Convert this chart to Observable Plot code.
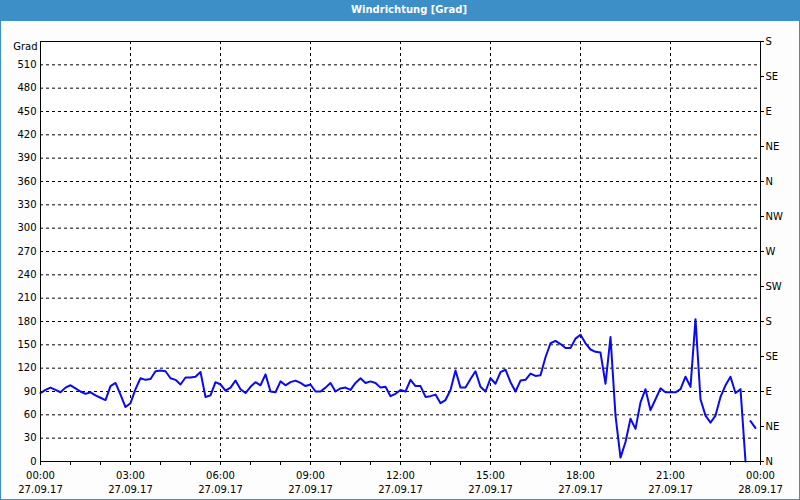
<!DOCTYPE html>
<html><head><meta charset="utf-8">
<script src="https://cdn.jsdelivr.net/npm/d3@7"></script>
<script src="https://cdn.jsdelivr.net/npm/@observablehq/plot@0.6"></script>
<style>
html,body{margin:0;padding:0;background:#fcfdfc;}
#wrap{position:relative;width:800px;height:500px;overflow:hidden;background:#fcfdfc;font-family:"DejaVu Sans",sans-serif;}
#title{position:absolute;left:0;top:0;width:800px;height:21px;background:#3c8fc7;}
#title span{position:absolute;left:409px;top:4px;transform:translateX(-50%);color:#fff;font-weight:bold;font-size:10px;white-space:nowrap;}
#chart{position:absolute;left:0;top:20px;}
#border{position:absolute;left:0;top:0;width:800px;height:500px;box-sizing:border-box;border:1px solid #3c8fc7;pointer-events:none;}
</style></head><body>
<div id="wrap"><div id="title"><span>Windrichtung [Grad]</span></div><div id="chart"></div><div id="border"></div></div>
<script>
// Series: wind direction in degrees, one value every 10 minutes from 27.09.17 00:00
const startTime = "2017-09-27T00:00:00Z";
const endTime = "2017-09-28T00:00:00Z";
const stepMinutes = 10;
const windDir = [
  88, 92, 95, 92, 89, 95,     // 00:00
  98, 94, 90, 87, 89, 85,     // 01:00
  82, 79, 97, 101, 86, 70,    // 02:00
  75, 93, 107, 105, 106, 116, // 03:00
  117, 116, 107, 105, 99, 108,// 04:00
  108, 109, 115, 83, 85, 102, // 05:00
  99, 91, 95, 104, 93, 88,    // 06:00
  96, 102, 98, 112, 90, 89,   // 07:00
  103, 98, 102, 104, 101, 97, // 08:00
  99, 90, 90, 95, 101, 90,    // 09:00
  94, 95, 92, 101, 107, 101,  // 10:00
  103, 101, 95, 96, 84, 87,   // 11:00
  92, 90, 105, 97, 97, 83,    // 12:00
  84, 86, 75, 79, 92, 117,    // 13:00
  95, 95, 106, 116, 96, 90,   // 14:00
  107, 100, 115, 118, 102, 90,// 15:00
  104, 105, 113, 110, 111, 134,// 16:00
  152, 155, 151, 146, 146, 158,// 17:00
  163, 152, 144, 141, 140, 100,// 18:00
  160, 59, 5, 25, 55, 42,     // 19:00
  76, 93, 66, 80, 94, 89,     // 20:00
  89, 89, 93, 109, 96, 183,   // 21:00
  80, 59, 50, 59, 83, 98,     // 22:00
  109, 88, 93, 0, 52, 43      // 23:00
];
// missing reading (line break) between these two samples
const gapBefore = ["23:40"];

const leftTicks = [0,30,60,90,120,150,180,210,240,270,300,330,360,390,420,450,480,510];
const rightTicks = [0,45,90,135,180,225,270,315,360,405,450,495,540];
const rightLabels = ["N","NE","E","SE","S","SW","W","NW","N","NE","E","SE","S"];
const majorHours = [0,3,6,9,12,15,18,21,24];
const yMax = 540;

const t0 = new Date(startTime).getTime();
const t1 = new Date(endTime).getTime();
const hhmm = d3.utcFormat("%H:%M");
const data = [];
windDir.forEach((v, i) => {
  const t = new Date(t0 + i * stepMinutes * 60000);
  if (gapBefore.includes(hhmm(t))) data.push({t: new Date(t.getTime() - 5 * 60000), v: null});
  data.push({t, v});
});
const majorTicks = majorHours.map(h => new Date(t0 + h * 3600000));
const hourTicks = d3.range(0, 25).map(h => new Date(t0 + h * 3600000));
const rightMap = new Map(rightTicks.map((v, i) => [v, rightLabels[i]]));
const fmtDate = d3.utcFormat("%d.%m.%y");

const chart = Plot.plot({
  width: 800, height: 480,
  marginLeft: 40, marginRight: 40, marginTop: 21, marginBottom: 39,
  style: {fontFamily: "DejaVu Sans, sans-serif", fontSize: "10px", background: "transparent", color: "#000"},
  x: {type: "utc", domain: [new Date(t0), new Date(t1)]},
  y: {domain: [0, yMax]},
  marks: [
    Plot.frame({fill: "#fff", stroke: "none"}),
    Plot.gridY(leftTicks.filter(v => v > 0), {stroke: "#000", strokeOpacity: 1, strokeDasharray: "3,3"}),
    Plot.gridX(majorTicks.slice(1, -1), {stroke: "#000", strokeOpacity: 1, strokeDasharray: "3,3"}),
    Plot.line(data, {x: "t", y: "v", stroke: "#0a0af0", strokeWidth: 2}),
    Plot.axisY(leftTicks, {anchor: "left", tickSize: 0, tickPadding: 4, label: null}),
    Plot.axisY(rightTicks, {anchor: "right", tickSize: 3, tickPadding: 2, tickFormat: d => rightMap.get(d), label: null}),
    Plot.axisX(hourTicks, {anchor: "bottom", tickSize: 4, tickFormat: () => "", label: null}),
    Plot.axisX(majorTicks, {anchor: "bottom", tickSize: 0, tickPadding: 8, lineHeight: 1.4,
      tickFormat: d => hhmm(d) + "\n" + fmtDate(d), label: null}),
    Plot.text(["Grad"], {frameAnchor: "top-left", dx: -3, dy: 1, textAnchor: "end", fill: "#000"}),
    Plot.frame({stroke: "#000", strokeWidth: 1})
  ]
});
document.getElementById("chart").appendChild(chart);
</script>
</body></html>
